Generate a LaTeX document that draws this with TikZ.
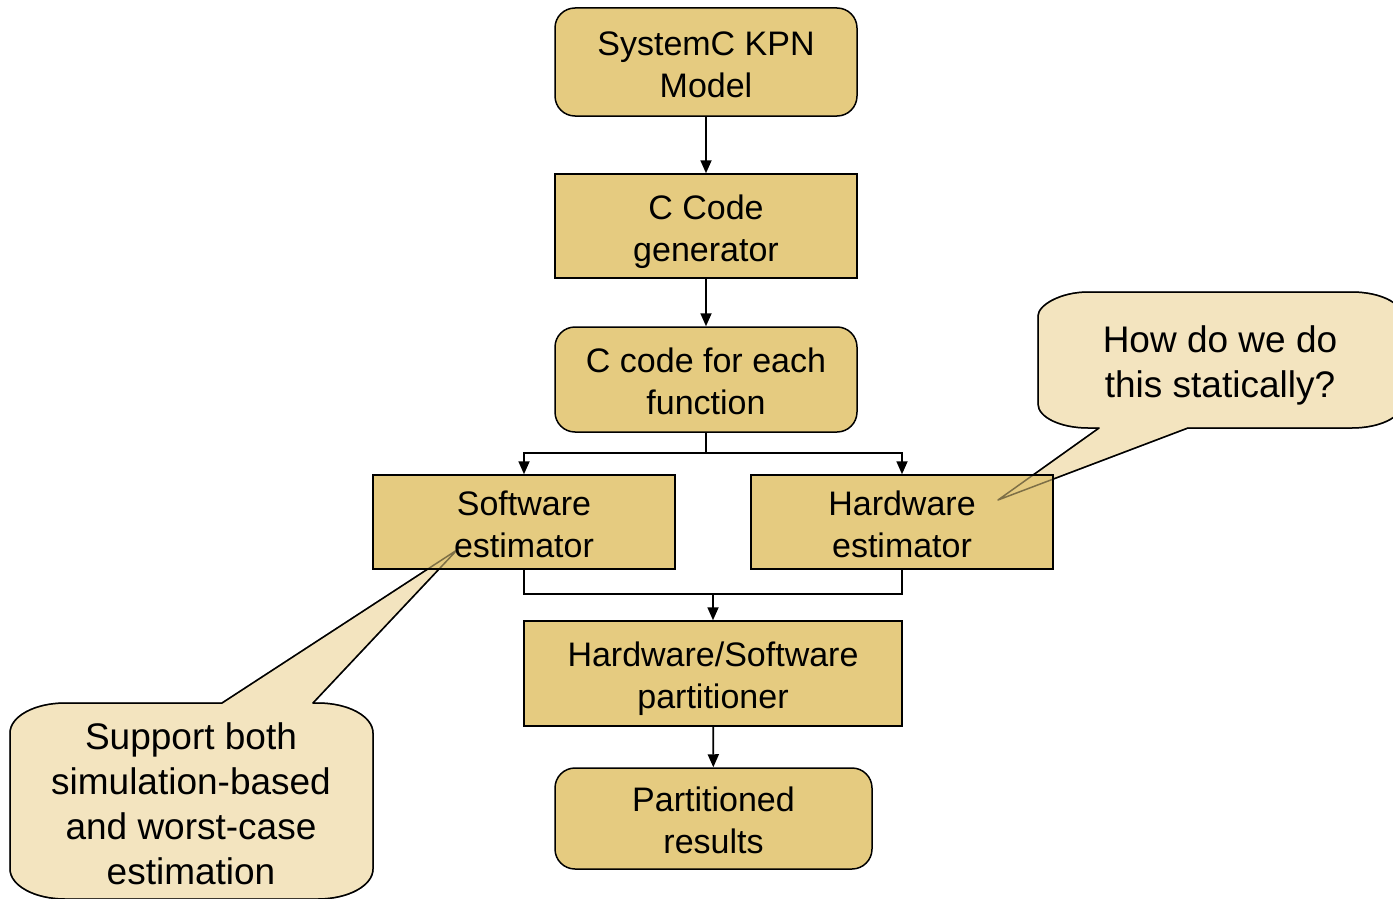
\documentclass[tikz,border=0pt]{standalone}
\usepackage{fontspec}
\setmainfont{Liberation Sans}
\usetikzlibrary{arrows.meta}
\definecolor{boxgold}{HTML}{E5CB80}
\definecolor{notetan}{HTML}{F3E4BF}
\begin{document}
\begin{tikzpicture}[x=1pt,y=-1pt,
  flowbox/.style={draw=black, fill=boxgold, line width=1.5pt, align=center,
    inner sep=0pt, text height=70pt, text depth=0pt,
    font=\fontsize{34}{42}\selectfont},
  roundbox/.style={flowbox, rounded corners=20pt},
  notetext/.style={align=center, inner sep=0pt, font=\fontsize{37}{45}\selectfont},
  note/.style={draw=black, fill=notetan, line width=1.5pt, line join=round},
  noteedge/.style={draw=black, draw opacity=0.45, line width=1.5pt, line join=round},
  flow/.style={-{Triangle[width=11pt,length=13pt]}, line width=1.8pt},
  link/.style={line width=1.8pt}]
\useasboundingbox (0,0) rectangle (1393,899);

% callout balloons (behind the boxes)
\def\noteA{(1038,316) .. controls (1038,305.2) and (1060.4,292) .. (1088,292) -- (1352,292)
  .. controls (1379.6,292) and (1402,302.8) .. (1402,316) -- (1402,404)
  .. controls (1402,417.2) and (1379.6,428) .. (1352,428) -- (1188,428) -- (998,500)
  -- (1099,428) -- (1088,428) .. controls (1060.4,428) and (1038,417.2) .. (1038,404) -- cycle}
\def\noteB{(10,733) .. controls (10,716.4) and (34.6,703) .. (65,703) -- (222,703) -- (457,550)
  -- (313,703) -- (318,703) .. controls (348.4,703) and (373,716.4) .. (373,733) -- (373,869)
  .. controls (373,885.6) and (348.4,899) .. (318,899) -- (65,899)
  .. controls (34.6,899) and (10,885.6) .. (10,869) -- cycle}
\path[note] \noteA;
\path[note] \noteB;

% flow boxes
\node[roundbox, minimum width=302pt, minimum height=108pt] (model) at (706,62) {SystemC KPN\\Model};
\node[flowbox, minimum width=302pt, minimum height=104pt] (gen) at (706,226) {C Code\\generator};
\node[roundbox, minimum width=302pt, minimum height=105pt] (cfun) at (706,379.5) {C code for each\\function};
\node[flowbox, minimum width=302pt, minimum height=94pt] (sw) at (524,522) {Software\\estimator};
\node[flowbox, minimum width=302pt, minimum height=94pt] (hw) at (902,522) {Hardware\\estimator};
\node[flowbox, minimum width=378pt, minimum height=105pt] (part) at (713,673.5) {Hardware/Software\\partitioner};
\node[roundbox, minimum width=317pt, minimum height=101pt] (res) at (713.5,818.5) {Partitioned\\results};

% callout texts
\node[notetext, text height=69pt, text depth=0pt] (q1) at (1220,362.5) {How do we do\\this statically?};
\node[notetext] (q2) at (191,804) {Support both\\simulation-based\\and worst-case\\estimation};

% pointer outlines seen through the boxes
\path[noteedge] \noteA;
\path[noteedge] \noteB;

% connectors
\coordinate (split) at (706,453);
\coordinate (join) at (713,594);
\draw[flow] (model) -- (gen);
\draw[flow] (gen) -- (cfun);
\draw[link] (cfun.south) -- (split);
\draw[flow] (split) -| (sw.north);
\draw[flow] (split) -| (hw.north);
\draw[link] (sw.south) |- (join);
\draw[link] (hw.south) |- (join);
\draw[flow] (join) -- (part.north);
\draw[flow] (part) -- (res);
\end{tikzpicture}
\end{document}
